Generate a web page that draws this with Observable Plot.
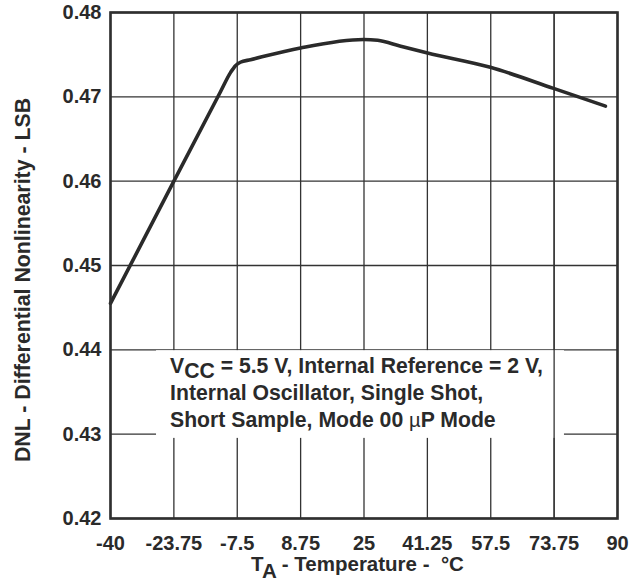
<!DOCTYPE html>
<html>
<head>
<meta charset="utf-8">
<script src="https://cdn.jsdelivr.net/npm/d3@7"></script>
<script src="https://cdn.jsdelivr.net/npm/@observablehq/plot@0.6"></script>
<style>
  html, body { margin: 0; padding: 0; background: #fff; }
  #chart svg { display: block; }
</style>
</head>
<body>
<div id="chart"></div>
<script>
// Temperature (°C) and DNL (LSB)
const tempC = [-40, -23.75, -11.8, -9.2, -7.95, -6.7, -4.1, 8.7, 24.9, 28.5, 34.4, 41.3, 57.4, 73.6, 86.9];
const dnl   = [0.4455, 0.4600, 0.4706, 0.4729, 0.4737, 0.4741, 0.4744, 0.4758, 0.4768, 0.4767, 0.4760, 0.4752, 0.4735, 0.4710, 0.4689];

const xTicks = [-40, -23.75, -7.5, 8.75, 25, 41.25, 57.5, 73.75, 90];
const xTickLabels = ["-40", "-23.75", "-7.5", "8.75", "25", "41.25", "57.5", "73.75", "90"];
const yTicks = [0.42, 0.43, 0.44, 0.45, 0.46, 0.47, 0.48];
const yTickLabels = ["0.42", "0.43", "0.44", "0.45", "0.46", "0.47", "0.48"];

// Annotation box (data units) and its text lines
const noteBoxX = [-28.2, 76.4];
const noteBoxY = [0.4295, 0.4399];
const gridOverNote = [73.75];
const noteAnchor = [-24.6, 0.4372];
const noteLines = [
  [["V", ""], ["CC", "sub"], [" = 5.5 V, Internal Reference = 2 V,", ""]],
  [["Internal Oscillator, Single Shot,", ""]],
  [["Short Sample, Mode 00 ", ""], ["\u00b5", "mu"], ["P Mode", ""]]
];
const yTitle = "DNL - Differential Nonlinearity - LSB";
const xTitleParts = [["T", ""], ["A", "sub"], [" - Temperature -  \u00b0C", ""]];

const data = tempC.map((t, i) => ({t, v: dnl[i]}));
const ink = "#2a2a2a";
const font = "'Liberation Sans', Arial, Helvetica, sans-serif";

function addParts(textSel, parts, subShift) {
  let pending = 0;
  for (const [s, kind] of parts) {
    const ts = textSel.append("tspan").text(s);
    if (kind === "sub") {
      ts.attr("dy", pending + subShift);
      pending = -subShift;
    } else {
      if (pending) ts.attr("dy", pending);
      pending = 0;
      if (kind === "mu") ts.attr("font-weight", "normal").attr("font-size", "0.95em");
    }
  }
}

const plot = Plot.plot({
  width: 641,
  height: 583,
  marginTop: 12,
  marginRight: 24,
  marginBottom: 65,
  marginLeft: 110,
  style: {fontFamily: font, color: ink, background: "#fff"},
  x: {domain: [-40, 90], ticks: xTicks},
  y: {domain: [0.42, 0.48], ticks: yTicks},
  marks: [
    Plot.ruleX(xTicks, {stroke: "#333", strokeWidth: 1.3}),
    Plot.ruleY(yTicks, {stroke: "#333", strokeWidth: 1.3}),
    Plot.rect([0], {x1: () => noteBoxX[0], x2: () => noteBoxX[1], y1: () => noteBoxY[0], y2: () => noteBoxY[1], fill: "#fff"}),
    Plot.ruleX(gridOverNote, {stroke: "#333", strokeWidth: 1.3}),
    Plot.line(data, {x: "t", y: "v", stroke: ink, strokeWidth: 3.6, curve: "monotone-x", strokeLinecap: "round"}),
    Plot.axisX({ticks: xTicks, tickSize: 0, tickPadding: 17, tickFormat: (d, i) => xTickLabels[i], fontSize: 20, fontWeight: "bold", label: null}),
    Plot.axisY({ticks: yTicks, tickSize: 0, tickPadding: 9, tickFormat: (d, i) => yTickLabels[i], fontSize: 20, fontWeight: "bold", label: null}),
    Plot.frame({stroke: "#2f2f2f", strokeWidth: 2.6}),
    (index, scales, values, dims) => {
      const g = d3.create("svg:g")
        .attr("font-family", font)
        .attr("font-weight", "bold")
        .attr("fill", ink);
      // annotation
      const ax = scales.x(noteAnchor[0]);
      const ay = scales.y(noteAnchor[1]);
      noteLines.forEach((parts, i) => {
        const line = g.append("text")
          .attr("font-size", 21.2)
          .attr("text-anchor", "start")
          .attr("x", ax)
          .attr("y", ay + i * 27);
        addParts(line, parts, 5);
      });
      // y title
      const ymid = (dims.marginTop + dims.height - dims.marginBottom) / 2 + 15;
      g.append("text")
        .attr("font-size", 21.3)
        .attr("text-anchor", "middle")
        .attr("transform", `translate(30,${ymid}) rotate(-90)`)
        .text(yTitle);
      // x title
      const xmid = (dims.marginLeft + dims.width - dims.marginRight) / 2 - 6;
      const xt = g.append("text")
        .attr("font-size", 20.5)
        .attr("text-anchor", "middle")
        .attr("x", xmid)
        .attr("y", dims.height - 12);
      addParts(xt, xTitleParts, 7);
      return g.node();
    }
  ]
});

document.getElementById("chart").append(plot);
</script>
</body>
</html>
